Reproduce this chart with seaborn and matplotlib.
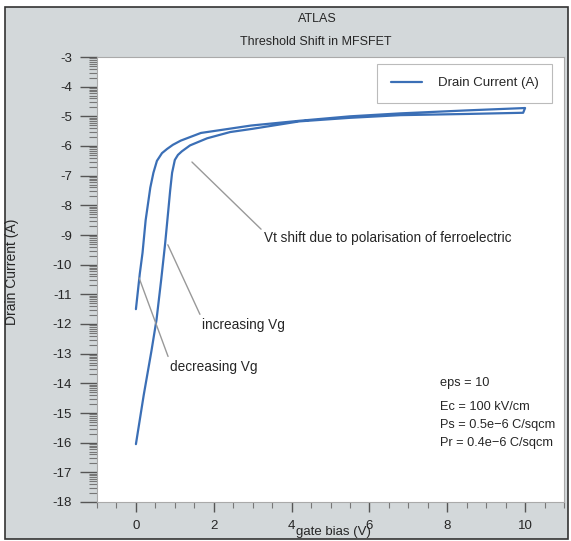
import numpy as np
import pandas as pd
import matplotlib.pyplot as plt
import seaborn as sns
from matplotlib.patches import Rectangle
from matplotlib.ticker import FixedLocator, MultipleLocator

# data (log10 of drain current)
vg_up = [0, 0.2, 0.4, 0.53, 0.65, 0.75, 0.83, 0.88, 0.93, 1.0, 1.08, 1.18,
         1.39, 1.83, 2.42, 3.0, 4.2, 5.5, 6.8, 8.5, 9.95]
id_up = [-16.05, -14.4, -12.9, -11.85, -10.5, -9.3, -8.2, -7.5, -6.9, -6.47,
         -6.3, -6.18, -5.98, -5.74, -5.53, -5.42, -5.17, -5.05, -4.96, -4.92,
         -4.88]
vg_down = [10.0, 8.5, 6.8, 5.5, 4.2, 2.96, 2.24, 1.67, 1.39, 1.15, 0.95, 0.8,
           0.67, 0.54, 0.45, 0.37, 0.25, 0.17, 0.1, 0.05, 0]
id_down = [-4.72, -4.8, -4.9, -5.0, -5.15, -5.31, -5.45, -5.56, -5.7, -5.82,
           -5.96, -6.1, -6.24, -6.5, -6.9, -7.4, -8.5, -9.6, -10.3, -10.9, -11.5]

params = ['eps = 10', 'Ec = 100 kV/cm', 'Ps = 0.5e\u22126 C/sqcm', 'Pr = 0.4e\u22126 C/sqcm']

df = pd.DataFrame({'vg': vg_up + vg_down, 'id': id_up + id_down})

sns.set_style('white')
plt.rcParams['font.family'] = ['Liberation Sans Narrow', 'Liberation Sans', 'DejaVu Sans']

bg = '#d3d8da'
fig = plt.figure(figsize=(5.71, 5.41), dpi=100, facecolor='white')
fig.patches.append(Rectangle((5 / 571, 1 - 539 / 541), 563 / 571, 532 / 541,
                             transform=fig.transFigure, facecolor=bg,
                             edgecolor='#333333', linewidth=1.2, zorder=-10))
ax = fig.add_axes([97 / 571, 1 - 502 / 541, 467 / 571, 445 / 541])
ax.set_facecolor('white')

sns.lineplot(data=df, x='vg', y='id', sort=False, estimator=None,
             color='#3b6fb6', linewidth=1.6, label='Drain Current (A)', ax=ax)

ax.set_xlim(-1, 11)
ax.set_ylim(-18, -3)
ax.set_xticks(range(0, 11, 2))
ax.xaxis.set_minor_locator(MultipleLocator(0.5))
ax.set_yticks(range(-18, -2))
ax.set_yticklabels([str(v) for v in range(-18, -2)])
minor_y = [d + np.log10(k) for d in range(-18, -3) for k in range(2, 10)]
ax.yaxis.set_minor_locator(FixedLocator(minor_y))
ax.tick_params(axis='y', which='major', direction='out', length=12, width=1,
               color='#555555', labelsize=9.5, pad=6, left=True)
ax.tick_params(axis='y', which='minor', direction='out', length=6, width=0.8,
               color='#777777', left=True)
ax.tick_params(axis='x', which='major', direction='out', length=7, width=1,
               color='#555555', labelsize=9.5, pad=6, bottom=True)
ax.tick_params(axis='x', which='minor', direction='out', length=4, width=0.8,
               color='#777777', bottom=True)
for s in ax.spines.values():
    s.set_color('#aaaaaa')
    s.set_linewidth(0.8)
ax.set_xlabel('')
ax.set_ylabel('')

leg = ax.legend(loc='upper right', bbox_to_anchor=(455 / 467, 1 - 7 / 445),
                fontsize=9.5, frameon=True, fancybox=False, borderpad=1.0,
                handlelength=2.4, handletextpad=1.2, borderaxespad=0)
leg.get_frame().set_edgecolor('#aaaaaa')
leg.get_frame().set_linewidth(0.8)

# annotations
gray = '#999999'
fs = 9.8
ax.annotate('Vt shift due to polarisation of ferroelectric', xy=(1.44, -6.54),
            xytext=(3.3, -9.1), fontsize=fs, va='center', ha='left',
            arrowprops=dict(arrowstyle='-', color=gray, lw=1,
                            shrinkA=0, shrinkB=0, relpos=(0, 0.9)))
ax.annotate('increasing Vg', xy=(0.82, -9.33), xytext=(1.7, -12.02),
            fontsize=fs, va='center', ha='left',
            arrowprops=dict(arrowstyle='-', color=gray, lw=1,
                            shrinkA=0, shrinkB=0, relpos=(0, 0.9)))
ax.annotate('decreasing Vg', xy=(0.08, -10.44), xytext=(0.87, -13.44),
            fontsize=fs, va='center', ha='left',
            arrowprops=dict(arrowstyle='-', color=gray, lw=1,
                            shrinkA=0, shrinkB=0, relpos=(0, 0.9)))
for txt, yv in zip(params, [-13.98, -14.79, -15.39, -16.0]):
    ax.text(7.81, yv, txt, fontsize=9.2, va='center', ha='left')

fig.text(317 / 571, 1 - 19 / 541, 'ATLAS', ha='center', va='center', fontsize=9)
fig.text(316 / 571, 1 - 42 / 541, 'Threshold Shift in MFSFET', ha='center',
         va='center', fontsize=9)
fig.text(12 / 571, 1 - 272 / 541, 'Drain Current (A)', rotation=90, ha='center',
         va='center', fontsize=10)
fig.text(333 / 571, 1 - 532 / 541, 'gate bias (V)', ha='center', va='center',
         fontsize=9.5)

fig.savefig('out.png', dpi=100, facecolor=fig.get_facecolor())
